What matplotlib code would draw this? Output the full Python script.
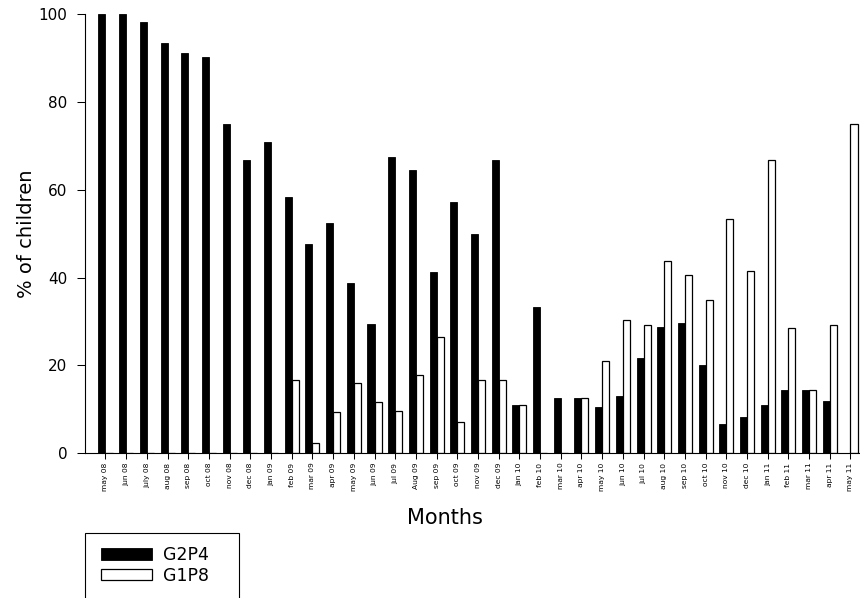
import numpy as np
import matplotlib
matplotlib.use("Agg")
import matplotlib.pyplot as plt
from matplotlib.patches import Rectangle

months = ["may 08", "jun 08", "july 08", "aug 08", "sep 08", "oct 08", "nov 08", "dec 08",
          "jan 09", "feb 09", "mar 09", "apr 09", "may 09", "jun 09", "jul 09", "Aug 09",
          "sep 09", "oct 09", "nov 09", "dec 09", "jan 10", "feb 10", "mar 10", "apr 10",
          "may 10", "jun 10", "jul 10", "aug 10", "sep 10", "oct 10", "nov 10", "dec 10",
          "jan 11", "feb 11", "mar 11", "apr 11", "may 11"]

g2p4 = [100, 100, 98.1, 93.5, 91.1, 90.1, 75.0, 66.7, 70.9, 58.3, 47.6, 52.4, 38.7,
        29.4, 67.4, 64.4, 41.2, 57.1, 49.9, 66.7, 11.0, 33.3, 12.5, 12.5, 10.5, 13.1,
        21.6, 28.8, 29.7, 20.0, 6.7, 8.3, 11.1, 14.3, 14.3, 11.8, 0]
g1p8 = [0, 0, 0, 0, 0, 0, 0, 0, 0, 16.7, 2.3, 9.5, 16.1, 11.7, 9.6, 17.8, 26.5, 7.1,
        16.7, 16.7, 11.0, 0, 0, 12.5, 21.0, 30.3, 29.3, 43.8, 40.7, 35.0, 53.3, 41.6,
        66.7, 28.5, 14.3, 29.3, 75.0]

yticks = [0, 20, 40, 60, 80, 100]

plt.rcParams['font.family'] = ['DejaVu Sans']

W, H = 860, 598
fig = plt.figure(figsize=(W / 100, H / 100), dpi=100)
ax = fig.add_axes([85.3 / W, (H - 453.3) / H, (W - 85.3) / W, (453.3 - 14) / H])

x = np.arange(len(months))
bw = 0.34
ax.bar(x, g2p4, width=bw, align='edge', color='black', edgecolor='black',
       linewidth=0.6, label='G2P4')
ax.bar(x, g1p8, width=bw, align='edge', color='white', edgecolor='black',
       linewidth=0.9, label='G1P8')
# black bar sits left of tick, white right of tick
for p in ax.patches[:len(months)]:
    p.set_x(p.get_x() - bw)

ax.set_xlim(-0.976, 36.46)
ax.set_ylim(0, 100)
ax.set_xticks(x)
ax.set_xticklabels(months, rotation=90, fontsize=5.4)
ax.set_yticks(yticks)
ax.set_yticklabels([str(v) for v in yticks], fontsize=11)
ax.tick_params(axis='x', direction='out', length=4.3, width=0.75, pad=2.5)
ax.tick_params(axis='y', direction='out', length=5.8, width=0.75, pad=7)

for s in ['top', 'right']:
    ax.spines[s].set_visible(False)
for s in ['left', 'bottom']:
    ax.spines[s].set_linewidth(0.8)

ax.set_xlabel('Months', fontsize=15)
ax.xaxis.set_label_coords((445 - 85.3) / (W - 85.3), (453.3 - 508) / 439.3)
ax.set_ylabel('% of children', fontsize=14)
ax.yaxis.set_label_coords((36 - 85.3) / (W - 85.3), 0.5)

# legend frame (extends past bottom of figure)
fig.patches.append(Rectangle((85 / W, -0.05), (239 - 85) / W, 0.05 + (H - 532.7) / H,
                             transform=fig.transFigure, facecolor='white',
                             edgecolor='black', linewidth=0.8))
leg = fig.legend(loc='upper left', bbox_to_anchor=(100.7 / W, (H - 546) / H),
                 frameon=False, fontsize=12.5, handlelength=2.93, handleheight=0.66,
                 handletextpad=0.63, labelspacing=0.15, borderpad=0, borderaxespad=0)

fig.savefig('out.png', dpi=100)
